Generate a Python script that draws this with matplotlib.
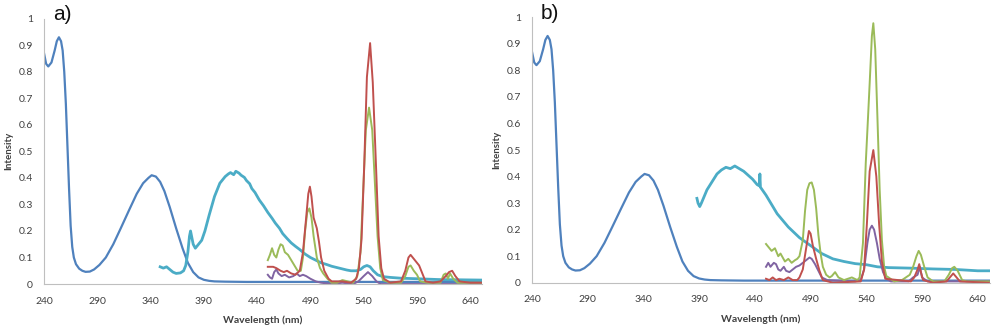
import matplotlib
matplotlib.use("Agg")
import matplotlib.pyplot as plt

# ---------------- data ----------------
abs_wl = [240, 242, 244, 247, 250, 252, 254, 256, 257.5, 259, 260.5, 262, 263.5, 265, 266.5, 268,
          270, 273, 276, 279, 283, 287, 292, 298, 305, 312, 320, 327, 333, 338, 341, 345, 349,
          353, 358, 364, 370, 375, 380, 385, 390, 395, 400, 410, 430, 470, 520, 580, 650]
abs_i = [0.87, 0.83, 0.82, 0.835, 0.88, 0.915, 0.93, 0.915, 0.88, 0.80, 0.68, 0.52, 0.36, 0.22, 0.14, 0.10,
         0.075, 0.058, 0.05, 0.046, 0.047, 0.055, 0.072, 0.10, 0.15, 0.21, 0.28, 0.34, 0.38, 0.40, 0.41, 0.405,
         0.385, 0.35, 0.29, 0.21, 0.135, 0.08, 0.045, 0.025, 0.016, 0.012, 0.01, 0.009, 0.008, 0.008, 0.008, 0.008, 0.008]

# panel a) emission series
a_cyan_wl = [349, 352, 355, 358, 361, 364, 368, 371, 373, 375, 376.5, 377.5, 378.5, 380, 382, 385, 388,
             391, 395, 400, 405, 410, 413, 415, 418, 420, 423, 425, 428, 430, 433, 435, 438, 442, 446, 450,
             454, 457, 461, 464, 468, 472, 476, 480, 485, 490, 495, 500, 505, 510, 515, 520, 524, 528, 533,
             537, 540, 543, 546, 549, 553, 558, 565, 575, 590, 610, 630, 650]
a_cyan_i = [0.065, 0.06, 0.065, 0.055, 0.045, 0.04, 0.042, 0.05, 0.07, 0.12, 0.18, 0.20, 0.18, 0.15, 0.135, 0.15, 0.165,
            0.20, 0.26, 0.33, 0.38, 0.405, 0.415, 0.42, 0.412, 0.425, 0.418, 0.41, 0.402, 0.39, 0.378, 0.36, 0.345, 0.317,
            0.295, 0.27, 0.248, 0.23, 0.21, 0.19, 0.172, 0.155, 0.142, 0.13, 0.113, 0.10, 0.09, 0.08, 0.074, 0.067, 0.062,
            0.057, 0.053, 0.05, 0.05, 0.055, 0.065, 0.07, 0.065, 0.05, 0.035, 0.028, 0.025, 0.022, 0.02, 0.017, 0.016, 0.015]

a_green_wl = [450, 452, 454, 456, 458, 460, 462, 464, 466, 469, 472, 475, 478, 481, 483, 485, 487, 489, 491,
              493, 496, 499, 502, 506, 510, 515, 520, 525, 530, 534, 537, 539.5, 542, 545, 548, 550.5, 553,
              555.5, 558, 565, 575, 579, 582, 584, 587, 590, 593, 600, 612, 615, 617, 619, 621, 624, 628, 650]
a_green_i = [0.09, 0.11, 0.135, 0.11, 0.10, 0.13, 0.15, 0.145, 0.12, 0.11, 0.09, 0.07, 0.05, 0.05, 0.10, 0.20, 0.27, 0.285, 0.25,
             0.18, 0.10, 0.06, 0.04, 0.02, 0.005, 0.005, 0.015, 0.01, 0.005, 0.03, 0.12, 0.35, 0.58, 0.665, 0.58, 0.38, 0.18,
             0.06, 0.015, 0.005, 0.005, 0.03, 0.065, 0.07, 0.05, 0.035, 0.01, 0.005, 0.005, 0.035, 0.04, 0.02, 0.04, 0.02, 0.005, 0.005]

a_red_wl = [450, 455, 458, 462, 465, 468, 472, 476, 480, 483, 486, 488, 489.5, 491, 493, 496, 498, 500, 503,
            507, 510, 520, 528, 533, 535.5, 538, 540.5, 543, 546, 548.5, 551.5, 554, 556.5, 559, 565, 575, 579,
            582, 584, 587, 590, 592, 595, 598, 605, 612, 617, 620, 623, 626, 630, 640, 650]
a_red_i = [0.065, 0.065, 0.06, 0.05, 0.045, 0.05, 0.04, 0.035, 0.05, 0.12, 0.25, 0.34, 0.367, 0.33, 0.25, 0.21, 0.16, 0.10, 0.05,
           0.02, 0.01, 0.01, 0.005, 0.02, 0.06, 0.17, 0.45, 0.78, 0.908, 0.76, 0.45, 0.18, 0.06, 0.02, 0.005, 0.01, 0.05,
           0.10, 0.11, 0.095, 0.08, 0.07, 0.04, 0.01, 0.005, 0.01, 0.03, 0.045, 0.05, 0.03, 0.01, 0.005, 0.005]

a_purple_wl = [450, 452, 454, 456, 458, 460, 463, 466, 470, 474, 477, 480, 483, 486, 490, 495, 500, 510,
               520, 530, 535, 540, 544, 548, 552, 556, 650]
a_purple_i = [0.035, 0.025, 0.02, 0.045, 0.055, 0.04, 0.03, 0.035, 0.025, 0.03, 0.04, 0.03, 0.035, 0.03, 0.02, 0.01, 0.005, 0.0,
              0.005, 0.0, 0.01, 0.03, 0.045, 0.03, 0.01, 0.0, 0.0]

# panel b) emission series
b_cyan_wl = [388, 389, 390.5, 392, 394, 397, 400, 403, 406, 410, 414, 418, 422, 426, 430, 434, 438, 442,
             444, 444.5, 445, 450, 455, 460, 465, 470, 475, 480, 485, 490, 495, 500, 505, 510, 515, 520,
             530, 540, 550, 560, 580, 600, 620, 640, 650]
b_cyan_i = [0.318, 0.30, 0.287, 0.30, 0.32, 0.35, 0.37, 0.39, 0.41, 0.425, 0.435, 0.43, 0.44, 0.43, 0.42, 0.405, 0.39, 0.37,
            0.365, 0.41, 0.36, 0.33, 0.295, 0.26, 0.235, 0.21, 0.19, 0.17, 0.155, 0.14, 0.125, 0.11, 0.10, 0.09, 0.085, 0.08,
            0.072, 0.068, 0.06, 0.057, 0.055, 0.052, 0.05, 0.045, 0.045]

b_green_wl = [450, 455, 458, 461, 463, 467, 470, 473, 476, 478, 480, 483, 485, 487, 489, 491, 493, 495, 497,
              499, 501, 504, 507, 509, 512, 515, 520, 527, 532, 534, 537, 539.5, 541.5, 543, 545, 546.3, 548, 550,
              552, 554, 556, 558, 560, 565, 572, 579, 582, 585, 587, 589, 592, 595, 600, 610, 614, 617, 619, 622, 626, 630, 650]
b_green_i = [0.146, 0.12, 0.13, 0.10, 0.11, 0.08, 0.09, 0.075, 0.085, 0.09, 0.10, 0.16, 0.27, 0.35, 0.375, 0.378, 0.35, 0.28, 0.18,
             0.11, 0.06, 0.03, 0.02, 0.025, 0.04, 0.02, 0.01, 0.02, 0.01, 0.02, 0.15, 0.45, 0.62, 0.75, 0.93, 0.978, 0.88, 0.62,
             0.35, 0.16, 0.06, 0.025, 0.02, 0.005, 0.01, 0.03, 0.06, 0.10, 0.12, 0.105, 0.06, 0.02, 0.005, 0.005, 0.03, 0.055, 0.06, 0.045, 0.01, 0.005, 0.005]

b_red_wl = [450, 453, 456, 459, 462, 466, 470, 474, 478, 480, 483, 486, 488.5, 490, 492, 495, 498, 501, 510,
            535, 538, 540.5, 543, 546.3, 549, 551.5, 554, 557, 580, 583, 586, 587.5, 589, 591, 600,
            612, 616, 618, 621, 624, 650]
b_red_i = [0.015, 0.01, 0.02, 0.01, 0.015, 0.01, 0.02, 0.01, 0.01, 0.02, 0.05, 0.13, 0.195, 0.185, 0.14, 0.09, 0.045, 0.01, 0.0,
           0.005, 0.05, 0.22, 0.42, 0.50, 0.40, 0.22, 0.08, 0.015, 0.005, 0.02, 0.05, 0.07, 0.04, 0.01, 0.0,
           0.005, 0.025, 0.035, 0.02, 0.005, 0.0]

b_purple_wl = [450, 452, 454, 457, 459, 461, 463, 466, 468, 471, 474, 477, 480, 483, 486, 489, 491, 494, 497,
               500, 505, 530, 535, 538, 541, 543, 545, 547, 549.5, 552, 555, 558, 562, 578, 582, 586, 588, 590, 595, 650]
b_purple_i = [0.06, 0.075, 0.06, 0.075, 0.07, 0.05, 0.045, 0.06, 0.045, 0.04, 0.05, 0.06, 0.065, 0.075, 0.085, 0.095, 0.09, 0.07, 0.045,
              0.02, 0.01, 0.005, 0.01, 0.05, 0.15, 0.20, 0.215, 0.20, 0.15, 0.09, 0.04, 0.015, 0.005, 0.005, 0.02, 0.03, 0.06, 0.02, 0.005, 0.005]

x_ticks = [240, 290, 340, 390, 440, 490, 540, 590, 640]
y_ticks = [0, 0.1, 0.2, 0.3, 0.4, 0.5, 0.6, 0.7, 0.8, 0.9, 1]
y_tick_labels = ["0", "0.1", "0.2", "0.3", "0.4", "0.5", "0.6", "0.7", "0.8", "0.9", "1"]

# ---------------- style ----------------
C_BLUE = "#4F81BD"
C_RED = "#C0504D"
C_GREEN = "#9BBB59"
C_PURPLE = "#8064A2"
C_CYAN = "#4BACC6"
TXT = "#404040"
AXC = "#BFBFBF"

plt.rcParams["font.family"] = ["Lato", "DejaVu Sans"]

fig = plt.figure(figsize=(10, 3.28), dpi=100)
ax_a = fig.add_axes([0.044, 0.134, 0.438, 0.809])
ax_b = fig.add_axes([0.532, 0.138, 0.458, 0.809])

panels = [
    (ax_a, "a)", a_cyan_wl, a_cyan_i, a_green_wl, a_green_i, a_red_wl, a_red_i, a_purple_wl, a_purple_i),
    (ax_b, "b)", b_cyan_wl, b_cyan_i, b_green_wl, b_green_i, b_red_wl, b_red_i, b_purple_wl, b_purple_i),
]

for ax, lab, cw, ci, gw, gi, rw, ri, pw, pi in panels:
    ax.plot(abs_wl, abs_i, color=C_BLUE, lw=1.6, solid_joinstyle="round")
    ax.plot(cw, ci, color=C_CYAN, lw=2.0, solid_joinstyle="round")
    ax.plot(pw, pi, color=C_PURPLE, lw=1.4, solid_joinstyle="round")
    ax.plot(gw, gi, color=C_GREEN, lw=1.4, solid_joinstyle="round")
    ax.plot(rw, ri, color=C_RED, lw=1.4, solid_joinstyle="round")
    ax.set_xlim(240, 651)
    ax.set_ylim(0, 1)
    ax.set_xticks(x_ticks)
    ax.set_xticklabels([str(t) for t in x_ticks])
    ax.set_yticks(y_ticks)
    ax.set_yticklabels(y_tick_labels)
    ax.tick_params(axis="both", length=0, labelsize=7.5, colors=TXT)
    ax.tick_params(axis="x", pad=9)
    ax.tick_params(axis="y", pad=8)
    for s in ["top", "right"]:
        ax.spines[s].set_visible(False)
    for s in ["left", "bottom"]:
        ax.spines[s].set_color(AXC)
        ax.spines[s].set_linewidth(0.8)
    ax.set_xlabel("Wavelength (nm)", fontsize=7.5, fontweight="bold", color=TXT, labelpad=7)
    ax.set_ylabel("Intensity", fontsize=7, fontweight="bold", color=TXT, labelpad=4)
    ax.text(0.02, 1.05, lab, transform=ax.transAxes, fontsize=15,
            family=["Liberation Sans", "DejaVu Sans"], color="#111111", va="top", ha="left")

fig.savefig("out.png", dpi=100)
